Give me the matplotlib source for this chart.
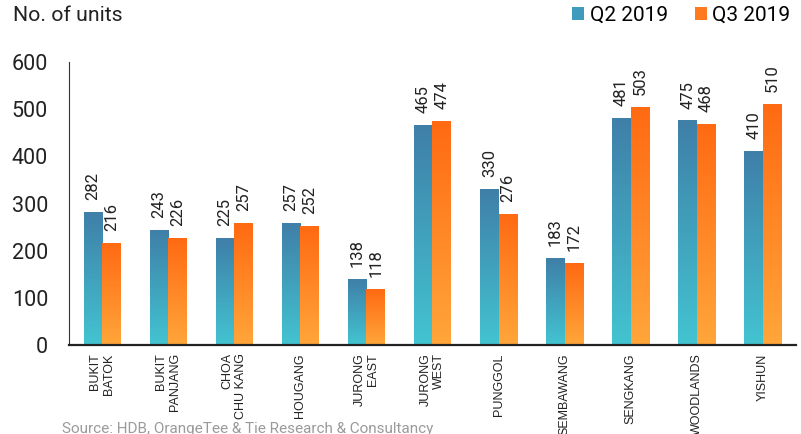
import matplotlib
matplotlib.use("Agg")
import matplotlib.pyplot as plt
import numpy as np
from matplotlib.colors import LinearSegmentedColormap
from matplotlib.patches import Patch

plt.rcParams["font.family"] = ["Roboto", "DejaVu Sans"]

estates = ["BUKIT\nBATOK", "BUKIT\nPANJANG", "CHOA\nCHU KANG", "HOUGANG", "JURONG\nEAST",
           "JURONG\nWEST", "PUNGGOL", "SEMBAWANG", "SENGKANG", "WOODLANDS", "YISHUN"]
q2_2019 = [282, 243, 225, 257, 138, 465, 330, 183, 481, 475, 410]
q3_2019 = [216, 226, 257, 252, 118, 474, 276, 172, 503, 468, 510]

# gradients: light at bottom, dark at top
blue_cmap = LinearSegmentedColormap.from_list("q2", ["#43c4d1", "#3f7fa8"])
orange_cmap = LinearSegmentedColormap.from_list("q3", ["#ffa63a", "#ff6a12"])
grad = np.linspace(0, 1, 256).reshape(-1, 1)

fig = plt.figure(figsize=(8.01, 4.34), dpi=100)
ax = fig.add_axes([0.0861, 0.205, 0.9077, 0.652])

x = np.arange(len(estates))
w = 0.28

bars_q2 = ax.bar(x - w / 2, q2_2019, w, color="none", edgecolor="none")
bars_q3 = ax.bar(x + w / 2, q3_2019, w, color="none", edgecolor="none")

for bars, cmap, vals in [(bars_q2, blue_cmap, q2_2019), (bars_q3, orange_cmap, q3_2019)]:
    for b, v in zip(bars, vals):
        x0 = b.get_x()
        ax.imshow(grad, extent=[x0, x0 + b.get_width(), 0, v], origin="lower",
                  aspect="auto", cmap=cmap, zorder=2)
        ax.annotate(str(v), (x0 + b.get_width() / 2, v), xytext=(0, 9),
                    textcoords="offset points", rotation=90, ha="center", va="bottom",
                    fontsize=12, color="#222222")

ax.set_xlim(-0.5, len(estates) - 0.5)
ax.set_ylim(0, 600)
ax.set_yticks([0, 100, 200, 300, 400, 500, 600])
ax.tick_params(axis="y", length=0, labelsize=15.5, pad=15, labelcolor="#222222")
ax.set_xticks(x)
ax.set_xticklabels(estates, rotation=90, fontsize=9, family=["Liberation Sans", "DejaVu Sans"],
                   multialignment="right", color="#222222", linespacing=1.15)
ax.tick_params(axis="x", length=0, pad=6)

for s in ["top", "right"]:
    ax.spines[s].set_visible(False)
ax.spines["left"].set_color("#333333")
ax.spines["bottom"].set_color("#222222")
ax.spines["bottom"].set_linewidth(1.6)

fig.text(0.016, 0.965, "No. of units", fontsize=15.3, color="#222222", va="center")

handles = [Patch(facecolor="#3f9bbb", edgecolor="none", label="Q2 2019"),
           Patch(facecolor="#ff7a1e", edgecolor="none", label="Q3 2019")]
fig.legend(handles=handles, loc="center right", bbox_to_anchor=(1.0, 0.965), ncol=2,
           frameon=False, fontsize=15, handlelength=0.6, handleheight=0.6,
           handletextpad=0.25, columnspacing=1.3, borderaxespad=0.1)

fig.text(0.077, 0.012, "Source: HDB, OrangeTee & Tie Research & Consultancy",
         fontsize=11, color="#9a9a9a", va="center")

fig.savefig("out.png", dpi=100)
